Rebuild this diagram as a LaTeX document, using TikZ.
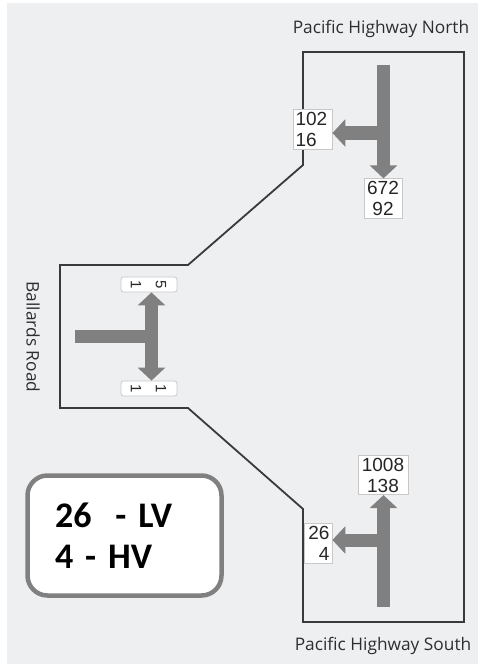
\documentclass[tikz,border=0pt]{standalone}
\usepackage{fontspec}
\setmainfont{Liberation Sans}
\newfontfamily\roadfont{Open Sans}
\newfontfamily\lvfont{Carlito}
\usetikzlibrary{arrows.meta}
\definecolor{bg}{HTML}{EEEFF1}
\definecolor{roadc}{HTML}{3A3A3A}
\definecolor{labc}{HTML}{2E2E2E}
\definecolor{arr}{HTML}{808080}
\definecolor{boxb}{HTML}{C8C8C8}
\begin{document}
\begin{tikzpicture}[x=1pt,y=-1pt,
  cnt/.style={draw=boxb, fill=white, line width=0.8pt, inner sep=2.5pt, font=\fontsize{19}{21}\selectfont, text=black!85},
  rbox/.style={draw=boxb, fill=white, line width=0.8pt, rounded corners=2.5pt, minimum width=56pt, minimum height=15pt, inner sep=0pt},
  rdig/.style={rotate=-90, inner sep=0pt, font=\fontsize{15}{15}\selectfont, text=black!85},
  flow/.style={draw=arr, line width=13pt, -{Triangle[width=27pt,length=13pt]}},
  bar/.style={draw=arr, line width=13pt},
  roadlbl/.style={font=\roadfont\fontsize{17.3}{19}\selectfont, text=labc, inner sep=0pt},
  outline/.style={draw=roadc, line width=1.8pt, line join=miter}
]
\useasboundingbox (0,0) rectangle (480,666);
\fill[white] (0,0) rectangle (480,666);
\fill[bg] (7,3) rectangle (478,664);

% road outline
\draw[outline] (303,52) -- (464,52) -- (464,622) -- (303,622) -- (303,509) -- (188,408) -- (60,408) -- (60,265) -- (188,265) -- (303,165) -- cycle;

% count boxes
\node[cnt, align=left, text width=34pt] (n102) at (312.5,129.5) {102\\16};
\node[cnt, align=center, text width=33pt] (n672) at (383,198.5) {672\\92};
\node[cnt, align=center, text width=45pt] (n1008) at (383,475) {1008\\138};
\node[cnt, align=right, text width=23pt] (n26) at (318,543.5) {26\\4};

% rotated count boxes on Ballards Road
\node[rbox] (b1) at (149,284.5) {};
\node[rdig] (b1a) at ([xshift=12pt]b1.center) {5};
\node[rdig] (b1b) at ([xshift=-13pt]b1.center) {1};
\node[rbox] (b2) at (149,388.5) {};
\node[rdig] (b2a) at ([xshift=12pt]b2.center) {1};
\node[rdig] (b2b) at ([xshift=-13pt]b2.center) {1};

% north approach
\coordinate (nTop) at (383.5,65);
\coordinate (nBr) at (390,133);
\draw[flow] (nTop) -- (nTop |- n672.north);
\draw[flow] (nBr) -- (nBr -| n102.east);

% south approach
\coordinate (sBot) at (383.5,607);
\coordinate (sBr) at (390,540);
\draw[flow] (sBot) -- (sBot |- n1008.south);
\draw[flow] (sBr) -- (sBr -| n26.east);

% Ballards approach
\coordinate (wL) at (75,336.5);
\coordinate (wJ) at (158,336.5);
\coordinate (wC) at (151.5,336.5);
\draw[bar] (wL) -- (wJ);
\draw[flow] (wC) -- (wC |- b1.south);
\draw[flow] (wC) -- (wC |- b2.north);

% road names
\node[roadlbl] (north) at (381,29) {Pacific Highway North};
\node[roadlbl] (south) at (383,646) {Pacific Highway South};
\node[roadlbl, rotate=-90] (ballards) at (33,337) {Ballards Road};

% legend
\node[draw=arr, line width=4.5pt, rounded corners=20pt, fill=white, minimum width=194pt, minimum height=120pt, inner sep=0pt, text width=139pt, align=left, font=\lvfont\bfseries\fontsize{36}{41}\selectfont] (legend) at (124.5,535.5) {26\ \ - LV\\4 - HV};
\end{tikzpicture}
\end{document}
